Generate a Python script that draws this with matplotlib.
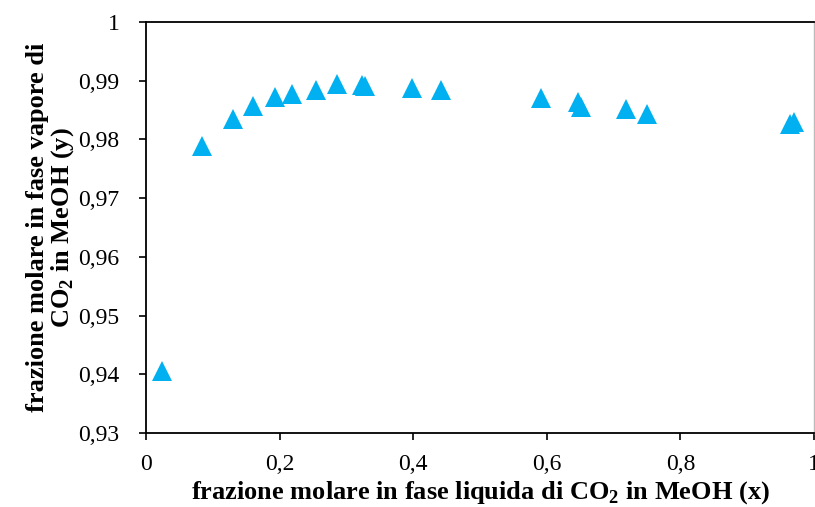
import matplotlib
matplotlib.use("Agg")
import matplotlib.pyplot as plt

plt.rcParams['font.family'] = ['Liberation Serif', 'DejaVu Serif']
plt.rcParams['mathtext.fontset'] = 'custom'
plt.rcParams['mathtext.rm'] = 'Liberation Serif'
plt.rcParams['mathtext.bf'] = 'Liberation Serif:bold'

x_liq = [0.0244, 0.0833, 0.1296, 0.160, 0.193, 0.2187, 0.2549, 0.2855, 0.324, 0.328,
         0.398, 0.4414, 0.5907, 0.647, 0.6505, 0.7187, 0.7496, 0.9634, 0.9694]
y_vap = [0.9405, 0.9788, 0.9835, 0.9857, 0.9872, 0.9878, 0.9884, 0.9894, 0.9893, 0.9891,
         0.9888, 0.9884, 0.9871, 0.9864, 0.9856, 0.9852, 0.9844, 0.9827, 0.9830]

x_ticks = [0, 0.2, 0.4, 0.6, 0.8, 1]
x_ticklabels = ['0', '0,2', '0,4', '0,6', '0,8', '1']
y_ticks = [0.93, 0.94, 0.95, 0.96, 0.97, 0.98, 0.99, 1.0]
y_ticklabels = ['0,93', '0,94', '0,95', '0,96', '0,97', '0,98', '0,99', '1']

fig = plt.figure(figsize=(8.15, 5.07), dpi=100)
ax = fig.add_axes([146/815, 74/507, 668/815, 411/507])

ax.plot(x_liq, y_vap, linestyle='none', marker='^', markersize=14.5,
        color='#00B0F0', markeredgewidth=0)

ax.set_xlim(0, 1)
ax.set_ylim(0.93, 1.0)
ax.set_xticks(x_ticks)
ax.set_xticklabels(x_ticklabels)
ax.set_yticks(y_ticks)
ax.set_yticklabels(y_ticklabels)
ax.tick_params(direction='out', length=5, width=1.2, labelsize=17, colors='black')
ax.tick_params(axis='x', pad=10)
ax.tick_params(axis='y', pad=14)

for s in ['left', 'bottom', 'top']:
    ax.spines[s].set_linewidth(1.3)
    ax.spines[s].set_color('black')
ax.spines['right'].set_color('#BBBBBB')
ax.spines['right'].set_linewidth(1.0)

ax.set_xlabel('frazione molare in fase liquida di CO$_\\mathbf{2}$ in MeOH (x)',
              fontsize=19, fontweight='bold', labelpad=3)
ax.set_ylabel('frazione molare in fase vapore di\nCO$_\\mathbf{2}$ in MeOH (y)',
              fontsize=19, fontweight='bold', labelpad=2, linespacing=1.0)

fig.savefig('out.png', dpi=100)
